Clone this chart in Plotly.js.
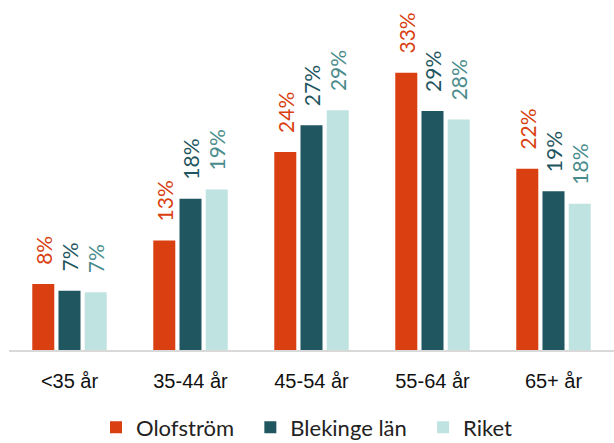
<!DOCTYPE html>
<html><head><meta charset="utf-8">
<script src="https://cdn.plot.ly/plotly-3.0.1.min.js"></script>
<style>html,body{margin:0;padding:0;background:#fff}#c{width:614px;height:443px}</style>
</head><body><div id="c"></div>
<script>
const categories = ["<35 år", "35-44 år", "45-54 år", "55-64 år", "65+ år"];
const olofstrom = [7.9, 13.1, 23.7, 33.2, 21.7];
const blekinge = [7.1, 18.1, 26.9, 28.6, 19.0];
const riket = [6.9, 19.2, 28.7, 27.6, 17.5];
const seriesNames = ["Olofström", "Blekinge län", "Riket"];
const barColors = ["#D93F11", "#1F5660", "#BFE3E0"];
const labelColors = ["#D93F11", "#1F5660", "#4A8C8C"];
const vals = [olofstrom, blekinge, riket];

const labelFont = "Lato, 'Open Sans', sans-serif";
const traces = vals.map((v, i) => ({
  type: "bar", x: categories, y: v,
  name: i < 2 ? seriesNames[i] + "\u00A0\u00A0" : seriesNames[i],
  marker: {color: barColors[i]},
  texttemplate: "\u00A0\u00A0\u00A0%{y:.0f}%", textposition: "outside", textangle: -90,
  constraintext: "none",
  textfont: {family: labelFont, size: 21, color: labelColors[i]},
  cliponaxis: false, hoverinfo: "skip"
}));

const layout = {
  width: 614, height: 443,
  margin: {l: 9, r: 0, t: 0, b: 93, autoexpand: false},
  paper_bgcolor: "#fff", plot_bgcolor: "#fff",
  barmode: "group", bargap: 0.35, bargroupgap: 0.16,
  showlegend: true,
  legend: {orientation: "h", x: 0.5, xanchor: "center", xref: "container", yref: "container", y: 0.035, yanchor: "middle",
    font: {family: labelFont, size: 22, color: "#222"}, itemwidth: 30, traceorder: "normal"},
  xaxis: {showline: true, linecolor: "#D9D9D9", linewidth: 2, ticks: "", showgrid: false, ticklabelstandoff: 12,
    tickfont: {family: "'Liberation Sans', Arial, sans-serif", size: 20, color: "#111"}, fixedrange: true},
  yaxis: {range: [0, 41.9], visible: false, showgrid: false, zeroline: false, fixedrange: true}
};
Plotly.newPlot("c", traces, layout, {displayModeBar: false, staticPlot: true});
</script></body></html>
